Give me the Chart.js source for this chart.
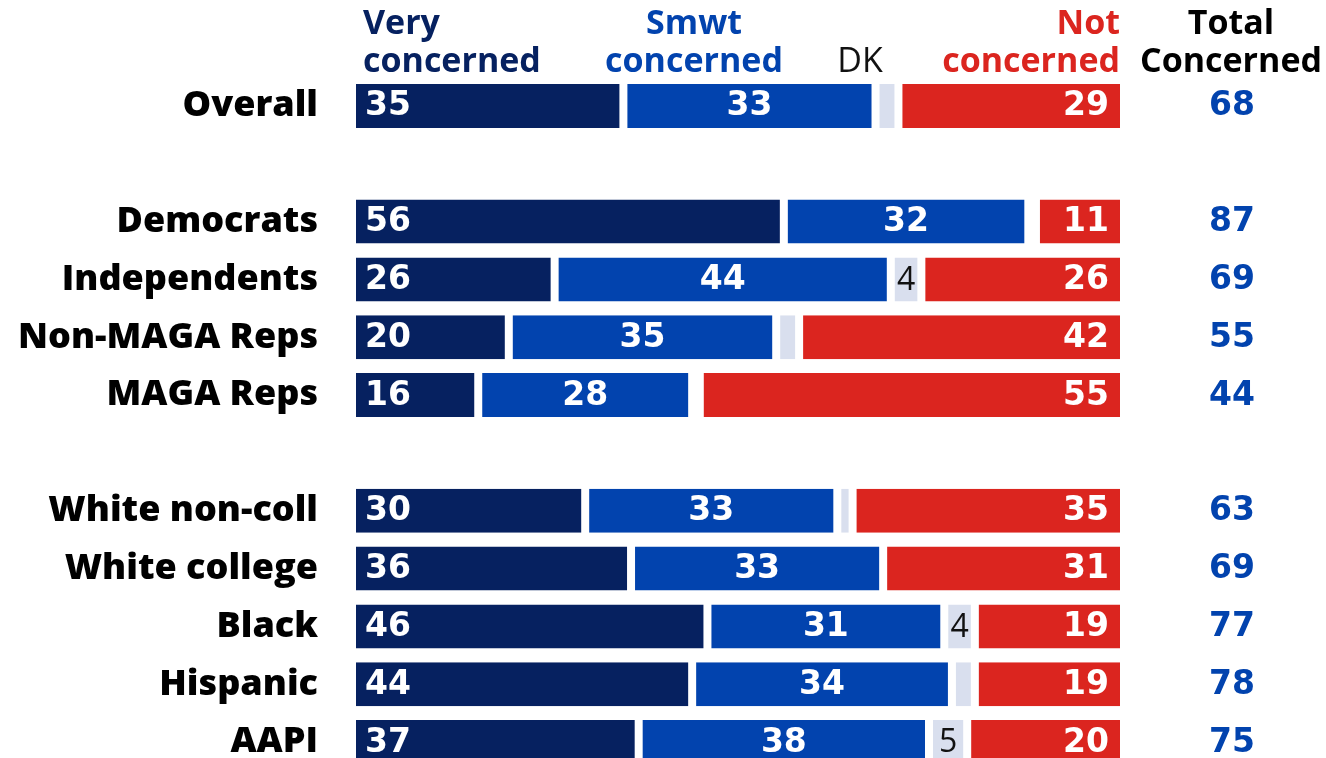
<!DOCTYPE html>
<html>
<head>
<meta charset="utf-8">
<script src="https://cdn.jsdelivr.net/npm/chart.js@4/dist/chart.umd.min.js"></script>
<style>
  html, body { margin: 0; padding: 0; background: #fff; overflow: hidden; }
  #wrap { width: 1326px; height: 758px; overflow: hidden; position: relative; }
  #c { display: block; width: 1326px; height: 800px; }
</style>
</head>
<body>
<div id="wrap"><canvas id="c" width="1326" height="800"></canvas></div>
<script>
const categories = ['Overall', '', 'Democrats', 'Independents', 'Non-MAGA Reps', 'MAGA Reps', '', 'White non-coll', 'White college', 'Black', 'Hispanic', 'AAPI'];
const veryConcerned = [35, null, 56, 26, 20, 16, null, 30, 36, 46, 44, 37];
const smwtConcerned = [33, null, 32, 44, 35, 28, null, 33, 33, 31, 34, 38];
const dontKnow      = [3,  null, 1,  4,  3,  1,  null, 2,  0,  4,  3,  5];
const notConcerned  = [29, null, 11, 26, 42, 55, null, 35, 31, 19, 19, 20];
const totalConcerned = [68, null, 87, 69, 55, 44, null, 63, 69, 77, 78, 75];
const headerVery = ['Very', 'concerned'];
const headerSmwt = ['Smwt', 'concerned'];
const headerDK = ['DK'];
const headerNot = ['Not', 'concerned'];
const headerTotal = ['Total', 'Concerned'];

const FONT = "'Open Sans', sans-serif";
const NUMFONT = "'DejaVu Sans', sans-serif";
const C_VERY = '#062160', C_SMWT = '#0243AE', C_DK = '#D9DFEE', C_NOT = '#DB251F';

const overlay = {
  id: 'overlay',
  afterDatasetsDraw(chart) {
    const ctx = chart.ctx;
    const metas = [0,1,2,3].map(i => chart.getDatasetMeta(i));
    ctx.save();
    ctx.textBaseline = 'middle';
    categories.forEach((cat, i) => {
      if (veryConcerned[i] == null) return;
      const bv = metas[0].data[i], bs = metas[1].data[i], bd = metas[2].data[i], bn = metas[3].data[i];
      const y = bv.y + 1;
      ctx.font = "bold 33px " + NUMFONT;
      ctx.fillStyle = '#fff';
      ctx.textAlign = 'left';
      ctx.fillText(String(veryConcerned[i]), bv.base + 9, y);
      ctx.textAlign = 'center';
      ctx.fillText(String(smwtConcerned[i]), (bs.base + bs.x) / 2, y);
      ctx.textAlign = 'right';
      ctx.fillText(String(notConcerned[i]), bn.x - 11, y);
      if (dontKnow[i] >= 4) {
        ctx.font = "normal 32px " + FONT;
        ctx.fillStyle = '#111';
        ctx.textAlign = 'center';
        ctx.fillText(String(dontKnow[i]), (bd.base + bd.x) / 2, y);
      }
      ctx.font = "bold 33px " + NUMFONT;
      ctx.fillStyle = C_SMWT;
      ctx.textAlign = 'center';
      ctx.fillText(String(totalConcerned[i]), 1232, y);
    });
    // headers
    const lineY = [24, 62];
    const drawHeader = (lines, x, align, color, weight) => {
      ctx.font = weight + " 34px " + FONT;
      ctx.fillStyle = color;
      ctx.textAlign = align;
      const off = lines.length === 1 ? 1 : 0;
      lines.forEach((t, k) => ctx.fillText(t, x, lineY[k + off]));
    };
    const xs = chart.scales.x;
    drawHeader(headerVery, xs.getPixelForValue(0) + 7, 'left', C_VERY, 'bold');
    drawHeader(headerSmwt, 694, 'center', C_SMWT, 'bold');
    drawHeader(headerDK, 860, 'center', '#111', 'normal');
    drawHeader(headerNot, xs.getPixelForValue(100), 'right', C_NOT, 'bold');
    drawHeader(headerTotal, 1231, 'center', '#000', 'bold');
    ctx.restore();
  }
};

const mk = (label, data, color, bw) => ({
  label, data, backgroundColor: color, borderColor: '#ffffff',
  borderWidth: bw, borderSkipped: false,
  barPercentage: 0.76, categoryPercentage: 1.0
});

new Chart(document.getElementById('c'), {
  type: 'bar',
  data: {
    labels: categories,
    datasets: [
      mk('Very concerned', veryConcerned, C_VERY, {left: 0, right: 4, top: 0, bottom: 0}),
      mk('Smwt concerned', smwtConcerned, C_SMWT, {left: 4, right: 4, top: 0, bottom: 0}),
      mk('DK', dontKnow, C_DK, {left: 4, right: 4, top: 0, bottom: 0}),
      mk('Not concerned', notConcerned, C_NOT, {left: 4, right: 0, top: 0, bottom: 0})
    ]
  },
  options: {
    indexAxis: 'y',
    responsive: false,
    maintainAspectRatio: false,
    animation: false,
    devicePixelRatio: 1,
    layout: { padding: { top: 77, bottom: 29, right: 206, left: 0 } },
    plugins: { legend: { display: false }, tooltip: { enabled: false } },
    scales: {
      x: { stacked: true, min: 0, max: 100, display: false },
      y: {
        stacked: true,
        grid: { display: false, drawTicks: false },
        border: { display: false },
        ticks: { color: '#000', font: { family: FONT, weight: '800', size: 36 }, padding: 38 },
        afterFit(scale) { scale.width = 356; scale.paddingTop = 0; scale.paddingBottom = 0; }
      }
    }
  },
  plugins: [overlay]
});
</script>
</body>
</html>
